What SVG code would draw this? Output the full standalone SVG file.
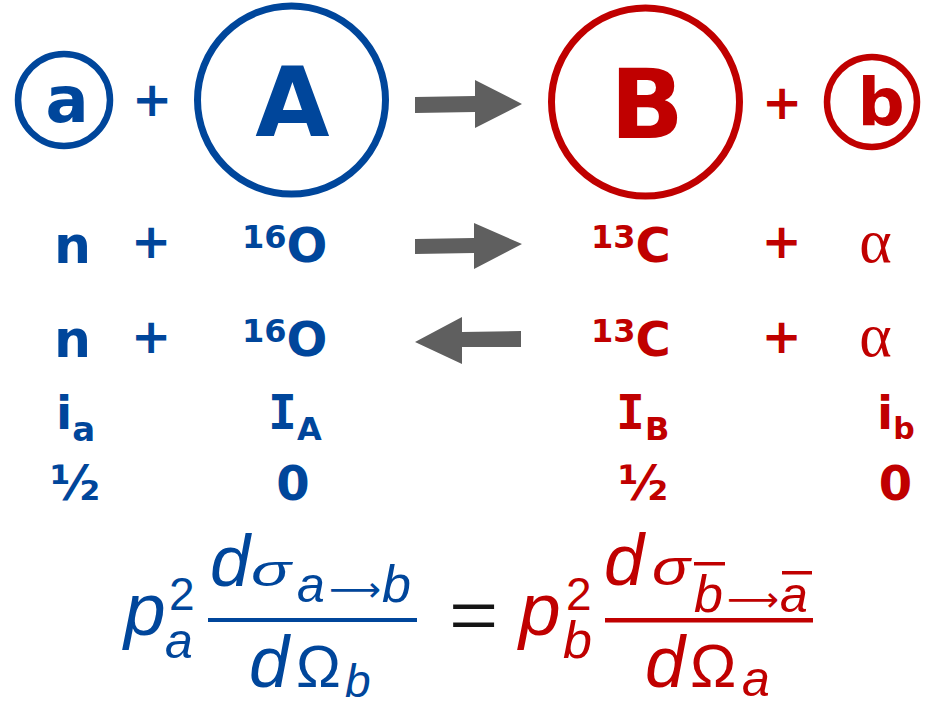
<svg xmlns="http://www.w3.org/2000/svg" width="926" height="702" viewBox="0 0 926 702">
<style>
.bl{fill:#00469B}
.rd{fill:#C00000}
.bold{font-family:"DejaVu Sans","Verdana",sans-serif;font-weight:bold}
.mono{font-family:"DejaVu Sans Mono",monospace;font-weight:bold}
.ring-b{fill:none;stroke:#00469B}
.ring-r{fill:none;stroke:#C00000}
.mid{text-anchor:middle}
.m{font-family:"Liberation Sans","Arial",sans-serif;font-style:italic}
.up{font-family:"Liberation Sans","Arial",sans-serif;font-style:normal}
.arr{font-family:"DejaVu Sans",sans-serif;font-style:normal}
.alpha{font-family:"Liberation Serif","Times New Roman",serif}
.conn{fill:#5F5F5F}
</style>
<rect width="926" height="702" fill="#FFFFFF"/>

<g id="particle-a">
<circle class="ring-b" cx="64" cy="100" r="46" stroke-width="6.5"/>
<text class="bl bold mid" x="67" y="122" font-size="64">a</text>
</g>
<g id="plus-1"><text class="bl bold mid" x="152" y="116" font-size="48">+</text></g>
<g id="nucleus-A">
<circle class="ring-b" cx="291.5" cy="100" r="94" stroke-width="7"/>
<text class="bl bold mid" x="292.5" y="136" font-size="96">A</text>
</g>
<g id="nucleus-B">
<circle class="ring-r" cx="645.5" cy="102" r="94" stroke-width="7"/>
<text class="rd bold mid" x="647" y="138" font-size="97">B</text>
</g>
<g id="plus-2"><text class="rd bold mid" x="782" y="119" font-size="48">+</text></g>
<g id="particle-b">
<circle class="ring-r" cx="872" cy="102" r="45" stroke-width="6.5"/>
<text class="rd bold mid" x="881" y="125" font-size="66">b</text>
</g>

<g id="row-forward">
<text class="bl bold mid" x="72.5" y="263" font-size="52">n</text>
<text class="bl bold mid" x="151" y="258" font-size="48">+</text>
<text class="bl bold" x="242" y="262" font-size="48"><tspan font-size="32" dy="-14">16</tspan><tspan dy="14">O</tspan></text>
<text class="rd bold" x="591" y="262" font-size="48"><tspan font-size="32" dy="-14">13</tspan><tspan dy="14">C</tspan></text>
<text class="rd bold mid" x="781.5" y="258" font-size="48">+</text>
<text class="rd alpha mid" x="875.5" y="262" font-size="62">α</text>
</g>

<g id="row-reverse">
<text class="bl bold mid" x="72.5" y="357" font-size="52">n</text>
<text class="bl bold mid" x="151" y="353" font-size="48">+</text>
<text class="bl bold" x="242" y="356" font-size="48"><tspan font-size="32" dy="-14">16</tspan><tspan dy="14">O</tspan></text>
<text class="rd bold" x="591" y="356" font-size="48"><tspan font-size="32" dy="-14">13</tspan><tspan dy="14">C</tspan></text>
<text class="rd bold mid" x="781.5" y="353" font-size="48">+</text>
<text class="rd alpha mid" x="875.5" y="356" font-size="62">α</text>
</g>

<g id="spins">
<text class="bl bold" x="56" y="429" font-size="47">i<tspan font-size="34" dy="12">a</tspan></text>
<text class="bl bold" x="268" y="429" font-size="48"><tspan class="mono">I</tspan><tspan font-size="32" dy="11">A</tspan></text>
<text class="rd bold" x="616" y="429" font-size="48"><tspan class="mono">I</tspan><tspan font-size="32" dy="11">B</tspan></text>
<text class="rd bold" x="877" y="429" font-size="47">i<tspan font-size="30" dy="10">b</tspan></text>
<text class="bl bold mid" x="75" y="500" font-size="48">½</text>
<text class="bl bold mid" x="293" y="500" font-size="48">0</text>
<text class="rd bold mid" x="643" y="500" font-size="48">½</text>
<text class="rd bold mid" x="895.5" y="500" font-size="48">0</text>
</g>

<g id="connectors">
<polygon class="conn" points="415,97 475,96 475,80 522,104 475,128 475,112 415,113"/>
<polygon class="conn" points="415,239 474,238 474,223 522,244 474,269 474,253 415,254"/>
<polygon class="conn" points="521,331 462,332 462,317 415,342 462,364 462,347 521,347"/>
</g>

<g id="formula-left" class="bl">
<text class="m" x="124" y="635" font-size="75">p</text>
<text class="up" x="169" y="610" font-size="46">2</text>
<text class="m" x="165" y="658" font-size="50">a</text>
<rect x="208" y="618" width="209" height="4"/>
<text class="m" x="210" y="586" font-size="72">d</text>
<text class="m" x="251" y="586" font-size="44" textLength="40" lengthAdjust="spacingAndGlyphs">σ</text>
<text class="m" x="297" y="602" font-size="50">a</text>
<text class="arr" x="329" y="601" font-size="34" textLength="52" lengthAdjust="spacingAndGlyphs">⟶</text>
<text class="m" x="382" y="602" font-size="52">b</text>
<text class="m" x="249" y="687" font-size="72">d</text>
<text class="up" x="296" y="687" font-size="60">Ω</text>
<text class="m" x="345" y="697" font-size="46">b</text>
</g>

<g id="formula-equals">
<text x="473.5" y="645" font-size="88" font-family="Liberation Serif, serif" text-anchor="middle" fill="#151515">=</text>
</g>

<g id="formula-right" class="rd">
<text class="m" x="519" y="635" font-size="75">p</text>
<text class="up" x="566" y="610" font-size="46">2</text>
<text class="m" x="563" y="658" font-size="52">b</text>
<rect x="605" y="618" width="208" height="4.5"/>
<text class="m" x="604" y="585" font-size="72">d</text>
<text class="m" x="652" y="585" font-size="50" textLength="38" lengthAdjust="spacingAndGlyphs">σ</text>
<rect x="694" y="562" width="31" height="3.5"/>
<text class="m" x="694" y="612" font-size="52">b</text>
<text class="arr" x="727" y="611" font-size="34" textLength="52" lengthAdjust="spacingAndGlyphs">⟶</text>
<rect x="782" y="571" width="30" height="3.5"/>
<text class="m" x="780" y="612" font-size="50">a</text>
<text class="m" x="645" y="687" font-size="72">d</text>
<text class="up" x="690" y="687" font-size="62">Ω</text>
<text class="m" x="742" y="696" font-size="50">a</text>
</g>
</svg>
